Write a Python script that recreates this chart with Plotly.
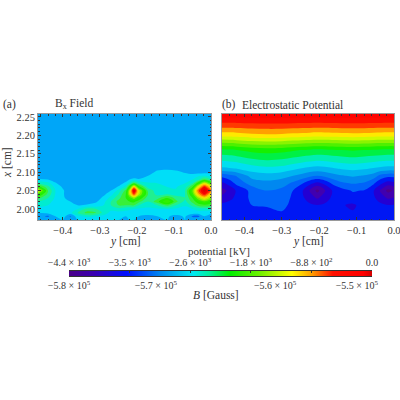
import plotly.graph_objects as go

FONT = "Liberation Serif"
INK = "#333333"

# Panel (a): Bx field, thousands of gauss
field_y = [-0.467,-0.44,-0.42,-0.40,-0.38,-0.36,-0.335,-0.31,-0.29,-0.27,-0.25,-0.23,-0.22,-0.208,-0.195,-0.17,-0.145,-0.118,-0.095,-0.07,-0.05,-0.035,-0.018,0.0]
field_x = [1.97,1.98,1.99,2.00,2.01,2.02,2.03,2.04,2.05,2.06,2.07,2.08,2.09,2.10,2.11,2.26]
field_z = [
[-571,-571,-571,-571,-571,-571,-571,-571,-571,-571,-571,-571,-571,-571,-571,-571,-571,-571,-571,-571,-571,-571,-571,-571],
[-571.8,-572.8,-571,-570,-572.8,-570,-569,-569.5,-570,-570,-570.2,-571,-570.3,-570,-571,-571.5,-571,-570.8,-571.5,-570.8,-572.8,-573,-571,-572],
[-571,-570.4,-570,-571,-570,-568,-566,-566.5,-568.5,-570,-570,-570,-570,-570,-570,-570,-570,-570,-570,-570,-570,-570,-570.5,-570.5],
[-570,-570,-570.5,-570,-570.5,-569.5,-567.5,-568,-569,-569,-568.5,-569,-569.3,-569.5,-569.7,-569.8,-569.7,-569.5,-569.7,-570,-569.5,-569,-568.5,-569],
[-569,-569.5,-570,-570,-570.5,-571,-570.8,-570.4,-569.5,-568,-566.5,-566.5,-566.5,-566.5,-568,-569,-568,-566,-568,-569.3,-567.5,-566,-565.5,-566],
[-568,-569,-570,-570.5,-571,-571.6,-571.8,-571.2,-570,-568,-566,-565.5,-565,-564.5,-566,-568,-565.5,-562,-566,-568.5,-566,-564,-562.5,-564],
[-566,-568,-569.8,-570.8,-571.5,-572,-572,-571.8,-570.6,-569,-567,-565,-563,-561,-563.5,-567.5,-567,-565,-567,-568,-565,-561,-558,-561],
[-563,-567,-569.6,-570.8,-572,-572,-572,-572,-571.4,-570,-568,-565,-560,-554,-560,-566.5,-568.5,-568,-568.8,-568,-563,-557,-553,-558],
[-558,-566.5,-569.5,-570.8,-572,-572,-572,-572,-572,-571,-569,-566,-560,-550.5,-559,-567,-568.8,-569.2,-569.4,-568,-562,-555,-550.5,-555],
[-564,-567.5,-570,-571.2,-572,-572,-572,-572,-572,-572,-570.8,-568.5,-564,-557,-564,-568.6,-569.3,-569.5,-569.6,-568.8,-565,-558.5,-553,-558],
[-568,-569,-570.8,-572,-572,-572,-572,-572,-572,-572,-572,-570.5,-568.5,-566,-568,-569.3,-569.5,-569.6,-569.7,-569.5,-568,-564,-559,-563],
[-570.8,-571,-572,-572,-572,-572,-572,-572,-572,-572,-572,-572,-571,-570.5,-570.8,-570.4,-569.8,-569.8,-569.8,-570,-569.5,-568.5,-566,-568],
[-572,-572,-572,-572,-572,-572,-572,-572,-572,-572,-572,-572,-572,-572,-572,-571,-570,-570,-570,-570.3,-570,-569.7,-569.4,-569.8],
[-572,-572,-572,-572,-572,-572,-572,-572,-572,-572,-572,-572,-572,-572,-572,-572,-570.5,-570.2,-570.5,-571.2,-572,-571.8,-571.6,-571.6],
[-572,-572,-572,-572,-572,-572,-572,-572,-572,-572,-572,-572,-572,-572,-572,-572,-571.6,-571.4,-571.6,-572,-572,-572,-572,-572],
[-572,-572,-572,-572,-572,-572,-572,-572,-572,-572,-572,-572,-572,-572,-572,-572,-572,-572,-572,-572,-572,-572,-572,-572],
]

# Panel (b): electrostatic potential, kV
pot_y = [-0.46,-0.44,-0.42,-0.38,-0.34,-0.30,-0.27,-0.245,-0.225,-0.205,-0.185,-0.165,-0.14,-0.11,-0.08,-0.055,-0.035,-0.016,0.0]
pot_x = [1.97,1.99,2.01,2.03,2.05,2.07,2.09,2.11,2.13,2.16,2.20,2.23,2.26]
pot_z = [
[-3680,-3680,-3680,-3680,-3650,-3620,-3680,-3680,-3680,-3680,-3680,-3680,-3680,-3680,-3680,-3680,-3680,-3680,-3680],
[-3650,-3650,-3650,-3620,-3580,-3530,-3620,-3670,-3680,-3690,-3680,-3680,-3700,-3720,-3680,-3670,-3680,-3680,-3680],
[-3680,-3650,-3610,-3520,-3500,-3480,-3560,-3650,-3700,-3730,-3700,-3680,-3720,-3780,-3650,-3640,-3690,-3730,-3720],
[-3900,-3800,-3680,-3470,-3420,-3430,-3550,-3700,-3850,-3990,-3850,-3700,-3620,-3600,-3590,-3700,-3860,-3990,-3950],
[-4050,-3900,-3700,-3450,-3300,-3360,-3520,-3720,-3980,-4250,-3980,-3730,-3600,-3500,-3530,-3720,-4000,-4250,-4150],
[-3800,-3650,-3450,-3200,-3150,-3200,-3340,-3500,-3680,-3800,-3680,-3480,-3340,-3280,-3320,-3480,-3700,-3850,-3800],
[-3450,-3380,-3280,-3000,-2950,-3000,-3080,-3170,-3250,-3300,-3250,-3170,-3100,-3050,-3100,-3180,-3380,-3450,-3450],
[-2900,-2880,-2850,-2750,-2700,-2720,-2800,-2870,-2920,-2950,-2930,-2890,-2830,-2800,-2830,-2880,-2920,-2950,-2950],
[-2650,-2630,-2600,-2500,-2450,-2480,-2540,-2590,-2620,-2650,-2635,-2610,-2580,-2550,-2580,-2610,-2630,-2650,-2650],
[-2250,-2230,-2200,-2130,-2100,-2120,-2170,-2210,-2230,-2250,-2240,-2220,-2200,-2180,-2200,-2220,-2240,-2250,-2250],
[-1250,-1240,-1220,-1170,-1150,-1160,-1190,-1210,-1225,-1240,-1230,-1220,-1210,-1200,-1210,-1225,-1235,-1240,-1240],
[-720,-720,-715,-700,-690,-690,-700,-710,-715,-720,-715,-710,-700,-700,-705,-710,-715,-720,-720],
[-270,-270,-270,-270,-270,-270,-270,-270,-270,-270,-270,-270,-270,-270,-270,-270,-270,-270,-270],
]

# Colour bar ramps, ticks and labels
B_ramp = [-580,-570,-560,-550]
pot_ramp = [-4400,-2640,-880,0]
B_ticks = [-580,-571.4,-559.6,-551.5]
B_labels = ["\u22125.8 \u00d7 10<sup>5</sup>","\u22125.7 \u00d7 10<sup>5</sup>","\u22125.6 \u00d7 10<sup>5</sup>","\u22125.5 \u00d7 10<sup>5</sup>"]
pot_ticks = [-4400,-3520,-2640,-1760,-880,0]
pot_labels = ["\u22124.4 \u00d7 10<sup>3</sup>","\u22123.5 \u00d7 10<sup>3</sup>","\u22122.6 \u00d7 10<sup>3</sup>","\u22121.8 \u00d7 10<sup>3</sup>","\u22128.8 \u00d7 10<sup>2</sup>","0.0"]

bar_scale = [[0,"#4a0088"],[0.08,"#3a00b0"],[0.19,"#0010ff"],[0.30,"#0088f0"],[0.41,"#00e8f0"],[0.46,"#00f0a0"],[0.53,"#00f000"],[0.63,"#70f000"],[0.735,"#ffff00"],[0.80,"#ffa000"],[0.87,"#ff1000"],[0.97,"#ff0000"],[1,"#d00000"]]
field_scale = [[0,"#4a0088"],[0.15,"#0000f0"],[0.2,"#0040ff"],[0.25,"#0078f0"],[0.30,"#00d4ff"],[0.35,"#00e8f0"],[0.40,"#00f0b0"],[0.45,"#40f070"],[0.50,"#30f000"],[0.55,"#10f000"],[0.60,"#50f000"],[0.65,"#a0f000"],[0.70,"#e0f000"],[0.75,"#ffe000"],[0.80,"#ffa000"],[0.85,"#ff4000"],[0.90,"#ff0000"],[1,"#d80000"]]
pot_scale = [[0,"#500078"],[0.055,"#4b00a0"],[0.11,"#3000c8"],[0.165,"#0000f0"],[0.2,"#0050ff"],[0.275,"#0088f0"],[0.385,"#00e8f0"],[0.435,"#00f0a0"],[0.505,"#00f000"],[0.605,"#70f000"],[0.71,"#ffff00"],[0.775,"#ffa000"],[0.845,"#ff1000"],[0.945,"#ff0000"],[1,"#ff0000"]]

W, H = 400, 400
def px_x(p): return p / W
def px_y(p): return 1 - p / H

fig = go.Figure()
fig.add_trace(go.Contour(x=field_y, y=field_x, z=field_z, zmin=-580, zmax=-550, colorscale=field_scale, showscale=False,
                         autocontour=False, contours=dict(start=-580, end=-550, size=1.5, coloring="fill", showlines=False),
                         line=dict(width=0), xaxis="x", yaxis="y"))
fig.add_trace(go.Contour(x=pot_y, y=pot_x, z=pot_z, zmin=-4400, zmax=0, colorscale=pot_scale, showscale=False,
                         autocontour=False, contours=dict(start=-4400, end=0, size=220, coloring="fill", showlines=False),
                         line=dict(width=0), xaxis="x2", yaxis="y2"))
fig.add_trace(go.Heatmap(x=B_ramp, y=[0, 1], z=[B_ramp, B_ramp], zmin=-580, zmax=-550, zsmooth="best",
                         colorscale=bar_scale, showscale=False, hoverinfo="skip", xaxis="x3", yaxis="y3"))
fig.add_trace(go.Heatmap(x=pot_ramp, y=[0, 1], z=[pot_ramp, pot_ramp], zmin=-4400, zmax=0, zsmooth="best",
                         colorscale=bar_scale, showscale=False, hoverinfo="skip", xaxis="x4", yaxis="y4"))

x_common = dict(automargin=False, showgrid=False, zeroline=False, showline=True, mirror="ticks", linecolor="#9a9a9a", linewidth=1,
                ticks="inside", ticklen=3, tickwidth=0.5, tickcolor=INK, tick0=0, dtick=0.1, ticklabeloverflow="allow",
                tickfont=dict(family=FONT, size=10.5, color=INK), tickformat=".1f",
                minor=dict(ticks="inside", ticklen=1.5, tickwidth=0.5, tickcolor=INK, dtick=0.02))
bar_common = dict(automargin=False, showgrid=False, zeroline=False, showline=True, linecolor=INK, linewidth=0.5,
                  ticks="inside", ticklen=2, tickwidth=0.5, tickcolor=INK, tickmode="array", ticklabeloverflow="allow",
                  tickfont=dict(family=FONT, size=10, color=INK), domain=[px_x(69), px_x(372)])
bar_y = dict(automargin=False, domain=[px_y(276), px_y(271)], range=[0, 1], visible=False, fixedrange=True)

def label(text, x, y, size=11.5, anchor="left", angle=0):
    return dict(text=text, x=px_x(x), y=px_y(y), xref="paper", yref="paper", xanchor=anchor, yanchor="middle",
                showarrow=False, textangle=angle, font=dict(family=FONT, size=size, color=INK))

fig.update_layout(
    width=W, height=H, margin=dict(l=0, r=0, t=0, b=0), autosize=False,
    paper_bgcolor="white", plot_bgcolor="white", showlegend=False,
    font=dict(family=FONT, color=INK),
    xaxis=dict(domain=[px_x(38), px_x(211)], range=[-0.467, 0.0], **x_common),
    yaxis=dict(automargin=False, domain=[px_y(220), px_y(114)], range=[1.970, 2.258], anchor="x",
               showgrid=False, zeroline=False, showline=True, mirror="ticks", linecolor="#9a9a9a", linewidth=1,
               ticks="inside", ticklen=3, tickwidth=0.5, tickcolor=INK, tick0=2.0, dtick=0.05, tickformat=".2f",
               tickfont=dict(family=FONT, size=10.5, color=INK),
               minor=dict(ticks="inside", ticklen=1.5, tickwidth=0.5, tickcolor=INK, dtick=0.01)),
    xaxis2=dict(domain=[px_x(222), px_x(394)], range=[-0.46, 0.0], anchor="y2", **x_common),
    yaxis2=dict(automargin=False, domain=[px_y(220), px_y(114)], range=[1.970, 2.258], anchor="x2", showticklabels=False,
                showgrid=False, zeroline=False, showline=True, mirror=True, linecolor="#9a9a9a", linewidth=1, ticks=""),
    xaxis3=dict(range=[-580, -550], anchor="y3", side="bottom", tickvals=B_ticks, ticktext=B_labels, **bar_common),
    yaxis3=dict(anchor="x3", **bar_y),
    xaxis4=dict(range=[-4400, 0], anchor="y4", side="top", tickvals=pot_ticks, ticktext=pot_labels, **bar_common),
    yaxis4=dict(anchor="x4", **bar_y),
    annotations=[
        label("(a)", 1, 105),
        label("B<sub>x</sub> Field", 53, 104),
        label("(b)", 220, 105),
        label("Electrostatic Potential", 240, 105),
        label("<i>y</i> [cm]", 125, 241, 11.5, "center"),
        label("<i>y</i> [cm]", 308, 241, 11.5, "center"),
        label("<i>x</i> [cm]", 7, 163, 11.5, "center", -90),
        label("potential [kV]", 219, 251, 11, "center"),
        label("<i>B</i> [Gauss]", 216, 295, 11.5, "center"),
    ],
)
fig.write_html("out.html", config={"displayModeBar": False}, post_script="document.body.style.margin='0';")
